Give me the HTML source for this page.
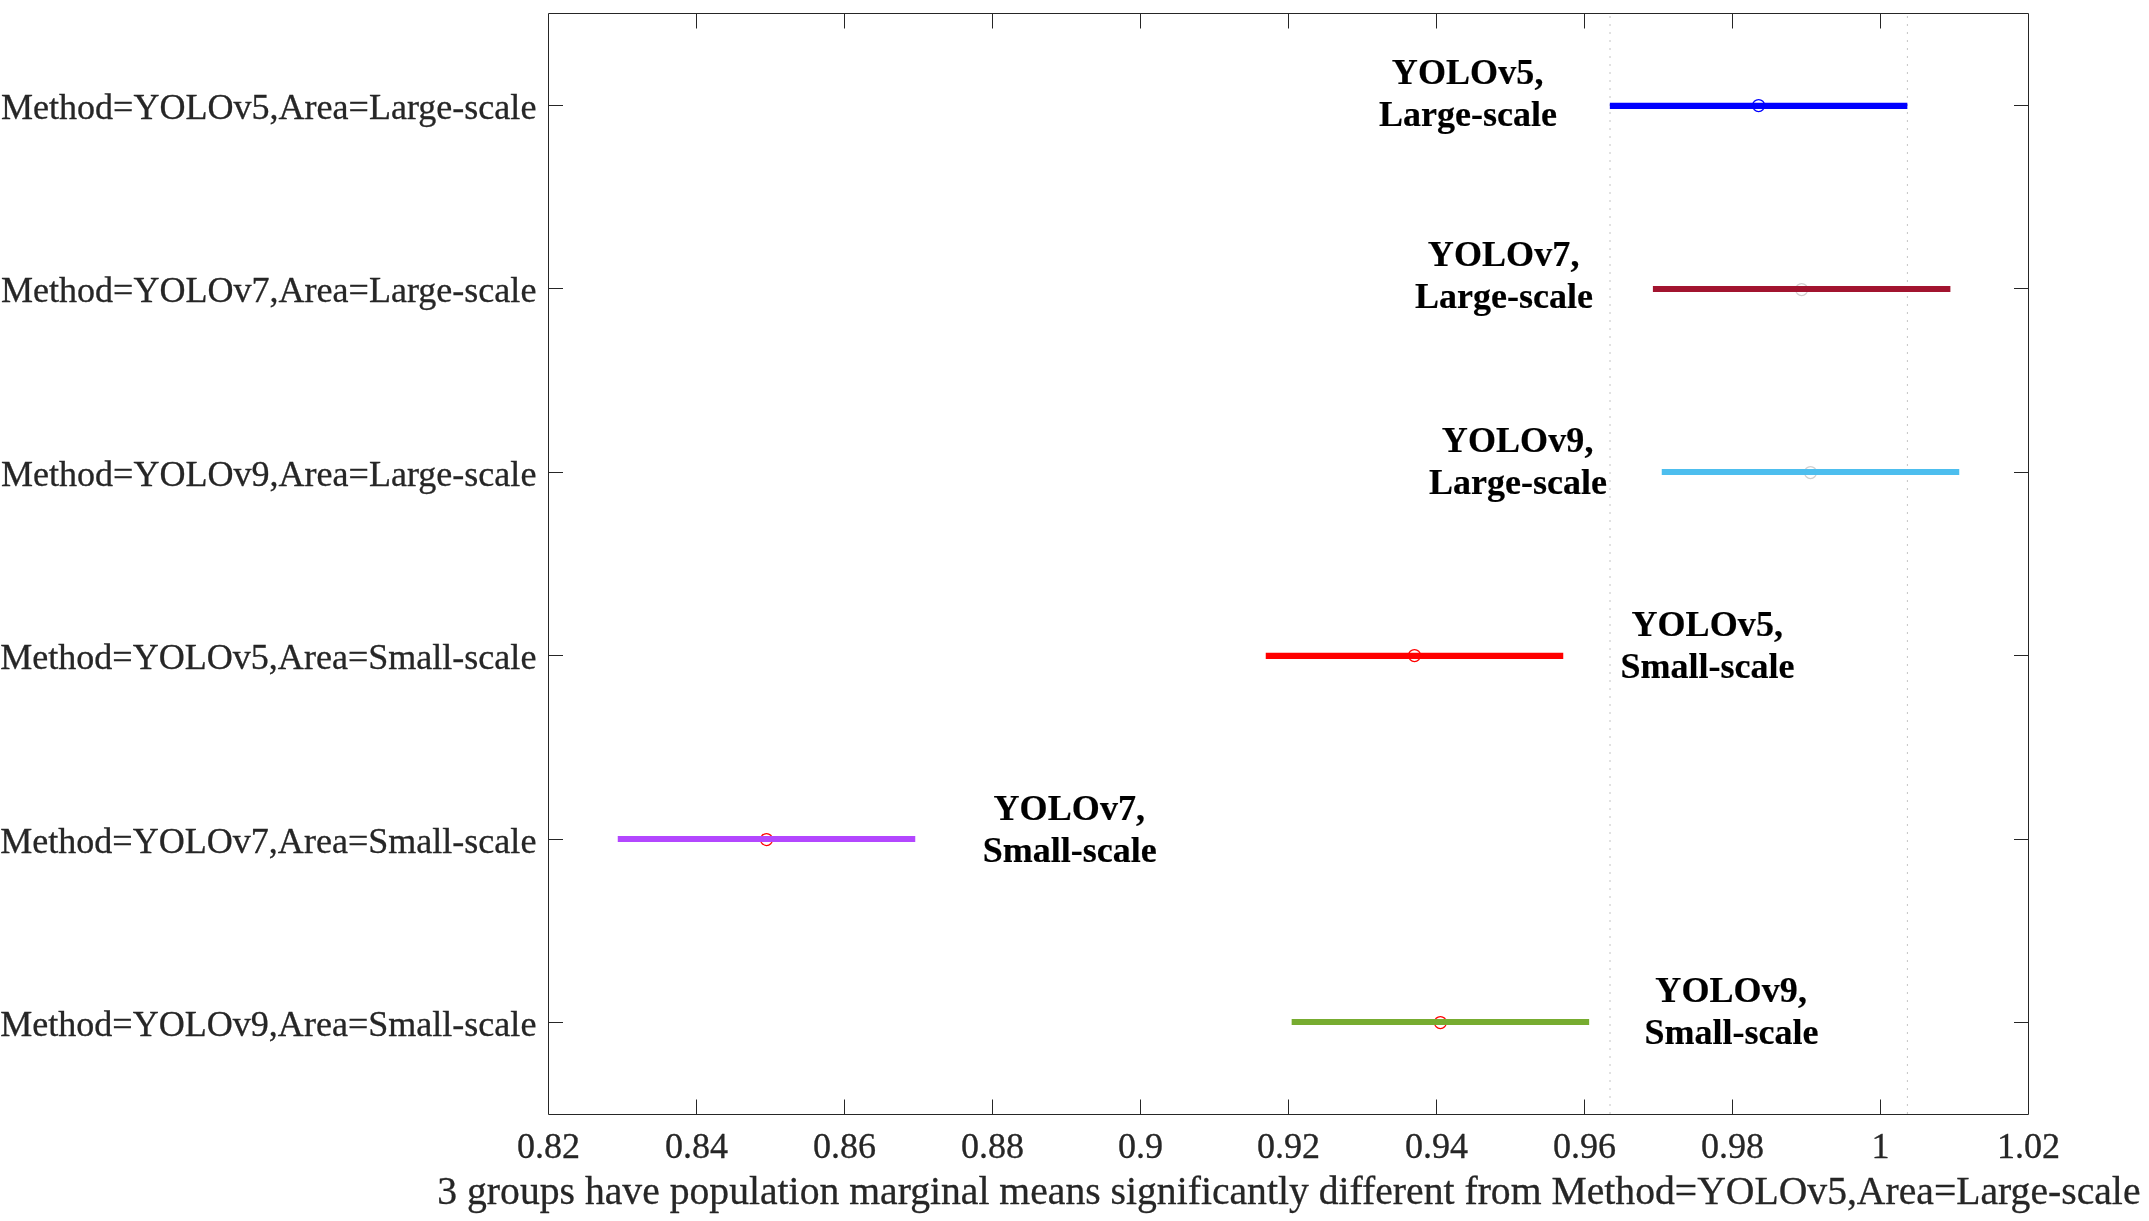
<!DOCTYPE html>
<html lang="en"><head><meta charset="utf-8"><title>Multiple comparison of population marginal means</title>
<style>
html,body{margin:0;padding:0;background:#fff;}
body{width:2149px;height:1221px;overflow:hidden;}
svg{display:block;will-change:transform;}
text{font-family:"Liberation Serif","Times New Roman",serif;}
.tk{font-size:36.05px;fill:#262626;stroke:#262626;stroke-width:0.3;}
.xl{font-size:39.665px;fill:#262626;stroke:#262626;stroke-width:0.3;}
.an{font-size:36px;font-weight:bold;fill:#000;stroke:#000;stroke-width:0.2;text-anchor:middle;}
.ax{stroke:#262626;stroke-width:1;fill:none;stroke-linejoin:round;}
.dot{stroke:#c4c4c4;stroke-dasharray:2 6;fill:none;}
.ci{stroke-width:6.2;fill:none;}
.mk{stroke-width:1.25;fill:none;}
</style></head><body>
<svg width="2149" height="1221" viewBox="0 0 2149 1221">
<rect x="0" y="0" width="2149" height="1221" fill="#ffffff"/>
<line class="dot" x1="1610.0" y1="16" x2="1610.0" y2="1114.5" stroke-width="1"/>
<line class="dot" x1="1907.4" y1="16" x2="1907.4" y2="1114.5" stroke-width="1"/>
<rect class="ax" x="548.5" y="13.5" width="1480.0" height="1101.0"/>
<text class="tk" x="548.50" y="1157.6" text-anchor="middle">0.82</text>
<line class="ax" x1="696.50" y1="1115.0" x2="696.50" y2="1099.5"/>
<line class="ax" x1="696.50" y1="13.0" x2="696.50" y2="28.5"/>
<text class="tk" x="696.50" y="1157.6" text-anchor="middle">0.84</text>
<line class="ax" x1="844.50" y1="1115.0" x2="844.50" y2="1099.5"/>
<line class="ax" x1="844.50" y1="13.0" x2="844.50" y2="28.5"/>
<text class="tk" x="844.50" y="1157.6" text-anchor="middle">0.86</text>
<line class="ax" x1="992.50" y1="1115.0" x2="992.50" y2="1099.5"/>
<line class="ax" x1="992.50" y1="13.0" x2="992.50" y2="28.5"/>
<text class="tk" x="992.50" y="1157.6" text-anchor="middle">0.88</text>
<line class="ax" x1="1140.50" y1="1115.0" x2="1140.50" y2="1099.5"/>
<line class="ax" x1="1140.50" y1="13.0" x2="1140.50" y2="28.5"/>
<text class="tk" x="1140.50" y="1157.6" text-anchor="middle">0.9</text>
<line class="ax" x1="1288.50" y1="1115.0" x2="1288.50" y2="1099.5"/>
<line class="ax" x1="1288.50" y1="13.0" x2="1288.50" y2="28.5"/>
<text class="tk" x="1288.50" y="1157.6" text-anchor="middle">0.92</text>
<line class="ax" x1="1436.50" y1="1115.0" x2="1436.50" y2="1099.5"/>
<line class="ax" x1="1436.50" y1="13.0" x2="1436.50" y2="28.5"/>
<text class="tk" x="1436.50" y="1157.6" text-anchor="middle">0.94</text>
<line class="ax" x1="1584.50" y1="1115.0" x2="1584.50" y2="1099.5"/>
<line class="ax" x1="1584.50" y1="13.0" x2="1584.50" y2="28.5"/>
<text class="tk" x="1584.50" y="1157.6" text-anchor="middle">0.96</text>
<line class="ax" x1="1732.50" y1="1115.0" x2="1732.50" y2="1099.5"/>
<line class="ax" x1="1732.50" y1="13.0" x2="1732.50" y2="28.5"/>
<text class="tk" x="1732.50" y="1157.6" text-anchor="middle">0.98</text>
<line class="ax" x1="1880.50" y1="1115.0" x2="1880.50" y2="1099.5"/>
<line class="ax" x1="1880.50" y1="13.0" x2="1880.50" y2="28.5"/>
<text class="tk" x="1880.50" y="1157.6" text-anchor="middle">1</text>
<text class="tk" x="2028.50" y="1157.6" text-anchor="middle">1.02</text>
<line class="ax" x1="548.0" y1="105.5" x2="563.0" y2="105.5"/>
<line class="ax" x1="2029.0" y1="105.5" x2="2014.0" y2="105.5"/>
<text class="tk" x="536.4" y="118.91" text-anchor="end">Method=YOLOv5,Area=Large-scale</text>
<line class="ax" x1="548.0" y1="288.5" x2="563.0" y2="288.5"/>
<line class="ax" x1="2029.0" y1="288.5" x2="2014.0" y2="288.5"/>
<text class="tk" x="536.4" y="302.33" text-anchor="end">Method=YOLOv7,Area=Large-scale</text>
<line class="ax" x1="548.0" y1="472.5" x2="563.0" y2="472.5"/>
<line class="ax" x1="2029.0" y1="472.5" x2="2014.0" y2="472.5"/>
<text class="tk" x="536.4" y="485.75" text-anchor="end">Method=YOLOv9,Area=Large-scale</text>
<line class="ax" x1="548.0" y1="655.5" x2="563.0" y2="655.5"/>
<line class="ax" x1="2029.0" y1="655.5" x2="2014.0" y2="655.5"/>
<text class="tk" x="536.4" y="669.17" text-anchor="end">Method=YOLOv5,Area=Small-scale</text>
<line class="ax" x1="548.0" y1="839.5" x2="563.0" y2="839.5"/>
<line class="ax" x1="2029.0" y1="839.5" x2="2014.0" y2="839.5"/>
<text class="tk" x="536.4" y="852.59" text-anchor="end">Method=YOLOv7,Area=Small-scale</text>
<line class="ax" x1="548.0" y1="1022.5" x2="563.0" y2="1022.5"/>
<line class="ax" x1="2029.0" y1="1022.5" x2="2014.0" y2="1022.5"/>
<text class="tk" x="536.4" y="1036.01" text-anchor="end">Method=YOLOv9,Area=Small-scale</text>
<text class="xl" x="2140.5" y="1203.5" text-anchor="end">3 groups have population marginal means significantly different from Method=YOLOv5,Area=Large-scale</text>
<circle class="mk" cx="1758.60" cy="105.5" r="6" stroke="#0000ff"/>
<line class="ci" x1="1609.85" y1="105.85" x2="1907.35" y2="105.85" stroke="#0000ff"/>
<text class="an" x="1467.65" y="84.0" letter-spacing="0.1">YOLOv5,</text>
<text class="an" x="1468.0" y="125.85">Large-scale</text>
<circle class="mk" cx="1801.65" cy="289.5" r="6" stroke="#cfcfcf"/>
<line class="ci" x1="1652.90" y1="289.0" x2="1950.40" y2="289.0" stroke="#a2142f"/>
<text class="an" x="1503.65" y="266.0" letter-spacing="0.1">YOLOv7,</text>
<text class="an" x="1504.0" y="307.85">Large-scale</text>
<circle class="mk" cx="1810.50" cy="472.5" r="6" stroke="#cfcfcf"/>
<line class="ci" x1="1661.75" y1="472.0" x2="1959.25" y2="472.0" stroke="#4dbeee"/>
<text class="an" x="1517.65" y="452.0" letter-spacing="0.1">YOLOv9,</text>
<text class="an" x="1518.0" y="493.85">Large-scale</text>
<circle class="mk" cx="1414.50" cy="655.5" r="6" stroke="#ff0000"/>
<line class="ci" x1="1265.75" y1="655.9" x2="1563.25" y2="655.9" stroke="#ff0000"/>
<text class="an" x="1707.25" y="636.0" letter-spacing="0.1">YOLOv5,</text>
<text class="an" x="1707.6" y="677.85">Small-scale</text>
<circle class="mk" cx="766.50" cy="839.5" r="6" stroke="#ff0000"/>
<line class="ci" x1="617.75" y1="839.0" x2="915.25" y2="839.0" stroke="#b347ff"/>
<text class="an" x="1069.35" y="820.0" letter-spacing="0.1">YOLOv7,</text>
<text class="an" x="1069.7" y="861.85">Small-scale</text>
<circle class="mk" cx="1440.40" cy="1022.5" r="6" stroke="#ff0000"/>
<line class="ci" x1="1291.65" y1="1022.0" x2="1589.15" y2="1022.0" stroke="#77ac30"/>
<text class="an" x="1731.15" y="1002.0" letter-spacing="0.1">YOLOv9,</text>
<text class="an" x="1731.5" y="1043.85">Small-scale</text>
</svg></body></html>
